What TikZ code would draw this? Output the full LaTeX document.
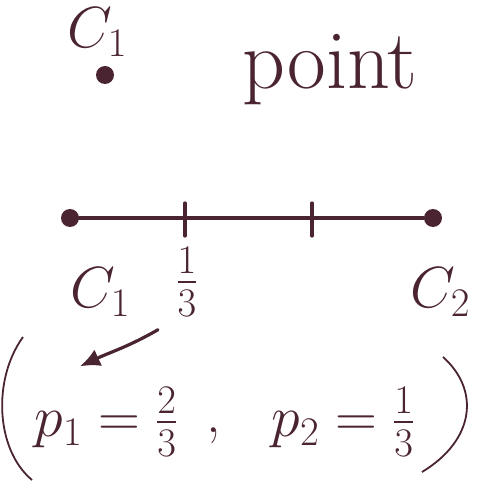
\RequirePackage{fix-cm}
\documentclass[tikz,border=0pt]{standalone}
\usepackage{amsmath,amssymb}
\usetikzlibrary{arrows.meta}
\definecolor{ink}{HTML}{4A2430}

\begin{document}
\begin{tikzpicture}[x=1pt,y=-1pt,
	ink line/.style={draw=ink, line width=3.2pt, line cap=round},
	dotnode/.style={circle, fill=ink, inner sep=0pt, minimum size=18pt},
	lbl/.style={text=ink, font=\fontsize{58}{62}\selectfont, inner sep=1pt},
	word/.style={text=ink, font=\fontsize{84}{90}\selectfont, inner sep=1pt}]
	\useasboundingbox (0,0) rectangle (501,481);
	\node[lbl] (topc) at (97,32) {$C_1$};
	\node[dotnode] (single) at (105,75) {};
	\node[word] (pointword) at (330,70) {point};
	\node[dotnode] (left) at (70,218) {};
	\node[dotnode] (right) at (433,218) {};
	\draw[ink line] (left) -- (right);
	\foreach \x/\nm in {185/tka,312/tkb} {\coordinate (\nm) at (\x,218);
		\draw[ink line] ([yshift=-18pt]\nm) -- ([yshift=15pt]\nm);}
	\node[lbl] (cone) at (100,292) {$C_1$};
	\node[lbl] (third) at (187,282) {$\frac{1}{3}$};
	\node[lbl] (ctwo) at (440,292) {$C_2$};
	\node[lbl] (pone) at (106,422) {$p_1=\frac{2}{3}$};
	\node[lbl] (comma) at (214,436) {,};
	\node[lbl] (ptwo) at (343,422) {$p_2=\frac{1}{3}$};
	\draw[ink line, -{Latex[length=20pt,width=18pt]}] ([xshift=-29pt,yshift=-12pt]third.south) to[out=-150, in=25] ([xshift=-26pt,yshift=20pt]pone.north);
	% brackets
	\draw[ink, line width=1.8pt] (23,337) .. controls (-8,380) and (-4,450) .. (32,480);
	\draw[ink, line width=1.8pt] (443,357) .. controls (480,390) and (475,440) .. (422,472);
\end{tikzpicture}
\end{document}
